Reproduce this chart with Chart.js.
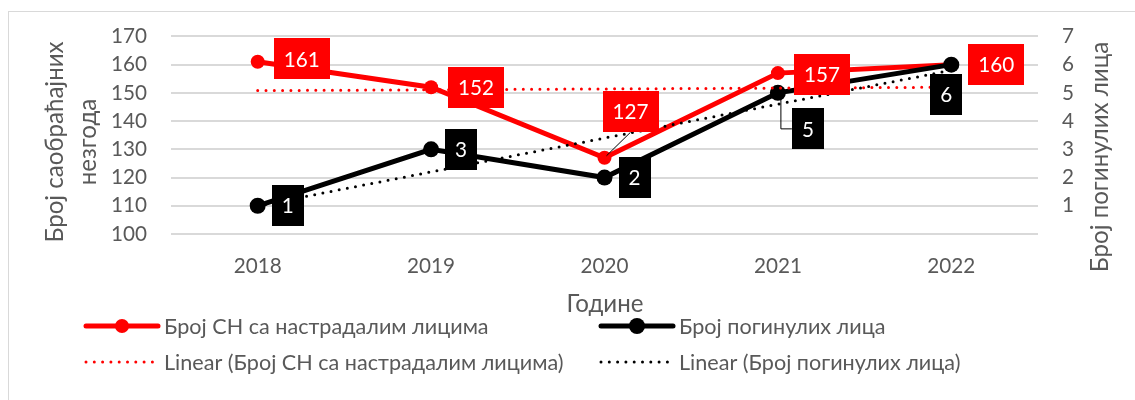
<!DOCTYPE html>
<html>
<head>
<meta charset="utf-8">
<script src="https://cdn.jsdelivr.net/npm/chart.js@4"></script>
<style>
  html, body { margin: 0; padding: 0; background: #fff; }
  #wrap { position: relative; width: 1135px; height: 400px; overflow: hidden; }
  #frame { position: absolute; left: 8px; top: 11px; width: 1140px; height: 400px; border: 1px solid #d9d9d9; }
  canvas { position: absolute; left: 0; top: 0; }
</style>
</head>
<body>
<div id="wrap">
  <div id="frame"></div>
  <canvas id="grafica" width="1135" height="400"></canvas>
</div>
<script>
// Подаци
const godine = ['2018', '2019', '2020', '2021', '2022'];
const brojSN = [161, 152, 127, 157, 160];
const brojPoginulih = [1, 3, 2, 5, 6];
const leviTikovi = [100, 110, 120, 130, 140, 150, 160, 170];
const desniTikovi = [0, 1, 2, 3, 4, 5, 6, 7];

const nazivSN = 'Број СН са настрадалим лицима';
const nazivPoginulih = 'Број погинулих лица';

const SIVA = '#595959';
const FONT = 'Lato, "Open Sans", sans-serif';

// veličina fonta tako da tekst ima zadatu širinu (Calibri u originalu)
function velicina(tekst, sirina) {
    const c = document.createElement('canvas').getContext('2d');
    c.font = '100px ' + FONT;
    return Math.round(1000 * sirina / c.measureText(tekst).width) / 10;
}
const fTik = velicina('2020', 48);
const fOznaka = velicina('160', 36);
const fLegenda = velicina(nazivSN, 324);
const fNaslov = velicina(nazivPoginulih, 230);

// linearni trend (najmanji kvadrati), kao Excel "Linear"
function trend(vrednosti) {
    const n = vrednosti.length;
    const mx = (n - 1) / 2;
    const my = vrednosti.reduce((a, b) => a + b, 0) / n;
    let sxy = 0, sxx = 0;
    vrednosti.forEach((v, i) => { sxy += (i - mx) * (v - my); sxx += (i - mx) * (i - mx); });
    const k = sxy / sxx;
    return vrednosti.map((v, i) => my + k * (i - mx));
}

// pomeraji oznaka u odnosu na tačku (px)
const pomerajSN = [[44, -3], [45, 0], [26, -46], [44, 1], [45, 0]];
const pomerajPog = [[30, 0], [30, 0], [30, 0], [30, 36], [-5, 30]];

const oznakePlugin = {
    id: 'oznake',
    afterDatasetsDraw(chart) {
        const ctx = chart.ctx;
        ctx.save();
        ctx.font = fOznaka + 'px ' + FONT;
        ctx.textAlign = 'center';
        ctx.textBaseline = 'middle';

        const crtaj = (dsIndex, pomeraji, boja, vrednosti, vodilice) => {
            const meta = chart.getDatasetMeta(dsIndex);
            meta.data.forEach((pt, i) => {
                const [dx, dy] = pomeraji[i];
                const cx = pt.x + dx, cy = pt.y + dy;
                const tekst = String(vrednosti[i]);
                const w = ctx.measureText(tekst).width + 20;
                const h = 41;
                if (vodilice[i]) {
                    ctx.strokeStyle = '#000';
                    ctx.lineWidth = 1;
                    ctx.beginPath();
                    vodilice[i](pt, cx, cy, w, h);
                    ctx.stroke();
                }
                ctx.fillStyle = boja;
                ctx.fillRect(Math.round(cx - w / 2), Math.round(cy - h / 2), Math.round(w), h);
                ctx.fillStyle = '#fff';
                ctx.fillText(tekst, cx, cy + 1);
            });
        };

        const vodSN = [];
        vodSN[2] = (pt, cx, cy, w, h) => { ctx.moveTo(pt.x + 2, pt.y - 2); ctx.lineTo(cx, cy + h / 2); };
        const vodPog = [];
        vodPog[3] = (pt, cx, cy, w, h) => { ctx.moveTo(pt.x + 3, pt.y + 6); ctx.lineTo(pt.x + 3, cy); ctx.lineTo(cx - w / 2, cy); };

        crtaj(0, pomerajSN, '#ff0000', brojSN, vodSN);
        crtaj(1, pomerajPog, '#000000', brojPoginulih, vodPog);
        ctx.restore();
    }
};

const nasloviPlugin = {
    id: 'naslovi',
    afterDraw(chart) {
        const ctx = chart.ctx;
        ctx.save();
        ctx.fillStyle = SIVA;
        ctx.textAlign = 'center';
        ctx.textBaseline = 'middle';
        ctx.font = fNaslov + 'px ' + FONT;
        const uspravno = (tekst, x, y) => {
            ctx.save();
            ctx.translate(x, y);
            ctx.rotate(-Math.PI / 2);
            ctx.fillText(tekst, 0, 0);
            ctx.restore();
        };
        uspravno('Број саобраћајних', 55, 142);
        uspravno('незгода', 88, 142);
        uspravno(nazivPoginulih, 1100, 157);
        ctx.fillText('Године', 605, 304);
        ctx.restore();
    }
};

const legendaPlugin = {
    id: 'legenda2x2',
    afterDraw(chart) {
        const ctx = chart.ctx;
        const mesta = [[86, 326], [601, 326], [86, 362], [601, 362]];
        ctx.save();
        ctx.font = fLegenda + 'px ' + FONT;
        ctx.textBaseline = 'middle';
        ctx.textAlign = 'left';
        chart.data.datasets.forEach((ds, i) => {
            const [x, y] = mesta[i];
            const duz = 72;
            ctx.save();
            ctx.strokeStyle = ds.borderColor;
            ctx.lineWidth = ds.borderWidth;
            ctx.lineCap = ds.borderCapStyle || 'round';
            ctx.setLineDash(ds.borderDash || []);
            ctx.beginPath();
            ctx.moveTo(x, y);
            ctx.lineTo(x + duz, y);
            ctx.stroke();
            ctx.restore();
            if (ds.pointRadius > 0) {
                ctx.fillStyle = ds.pointBackgroundColor;
                ctx.beginPath();
                ctx.arc(x + duz / 2, y, ds.pointRadius, 0, Math.PI * 2);
                ctx.fill();
            }
            ctx.fillStyle = SIVA;
            ctx.fillText(ds.label, x + duz + 6, y + 1);
        });
        ctx.restore();
    }
};

new Chart(document.getElementById('grafica').getContext('2d'), {
    type: 'line',
    data: {
        labels: godine,
        datasets: [
            {
                label: nazivSN,
                data: brojSN,
                yAxisID: 'y',
                borderColor: '#ff0000',
                borderWidth: 5,
                pointRadius: 7,
                pointBackgroundColor: '#ff0000',
                pointBorderWidth: 0,
                order: 3,
            },
            {
                label: nazivPoginulih,
                data: brojPoginulih,
                yAxisID: 'y1',
                borderColor: '#000000',
                borderWidth: 5,
                pointRadius: 8,
                pointBackgroundColor: '#000000',
                pointBorderWidth: 0,
                order: 2,
            },
            {
                label: 'Linear (' + nazivSN + ')',
                data: trend(brojSN),
                yAxisID: 'y',
                borderColor: '#ff0000',
                borderWidth: 3,
                borderDash: [0, 8.3],
                borderCapStyle: 'round',
                pointRadius: 0,
                order: 1,
            },
            {
                label: 'Linear (' + nazivPoginulih + ')',
                data: trend(brojPoginulih),
                yAxisID: 'y1',
                borderColor: '#000000',
                borderWidth: 3,
                borderDash: [0, 8.3],
                borderCapStyle: 'round',
                pointRadius: 0,
                order: 0,
            },
        ],
    },
    options: {
        responsive: false,
        animation: false,
        events: [],
        layout: { padding: { top: 32, left: 0, right: 0, bottom: 0 } },
        plugins: { legend: { display: false }, tooltip: { enabled: false } },
        scales: {
            x: {
                offset: true,
                grid: { display: false, drawTicks: false },
                border: { display: false },
                ticks: { color: SIVA, font: { family: FONT, size: fTik }, padding: 20 },
                afterFit: s => { s.height = 166; },
            },
            y: {
                position: 'left',
                min: leviTikovi[0],
                max: leviTikovi[leviTikovi.length - 1],
                afterBuildTicks: s => { s.ticks = leviTikovi.map(v => ({ value: v })); },
                grid: { color: '#d9d9d9', lineWidth: 2, drawTicks: false },
                border: { display: false },
                ticks: { color: SIVA, font: { family: FONT, size: fTik }, padding: 24 },
                afterFit: s => { s.width = 171; },
            },
            y1: {
                position: 'right',
                min: desniTikovi[0],
                max: desniTikovi[desniTikovi.length - 1],
                afterBuildTicks: s => { s.ticks = desniTikovi.map(v => ({ value: v })); },
                grid: { display: false, drawTicks: false },
                border: { display: false },
                ticks: {
                    color: SIVA,
                    font: { family: FONT, size: fTik },
                    padding: 24,
                    callback: v => (v === 0 ? '' : v),
                },
                afterFit: s => { s.width = 97; },
            },
        },
    },
    plugins: [oznakePlugin, nasloviPlugin, legendaPlugin],
});
</script>
</body>
</html>
